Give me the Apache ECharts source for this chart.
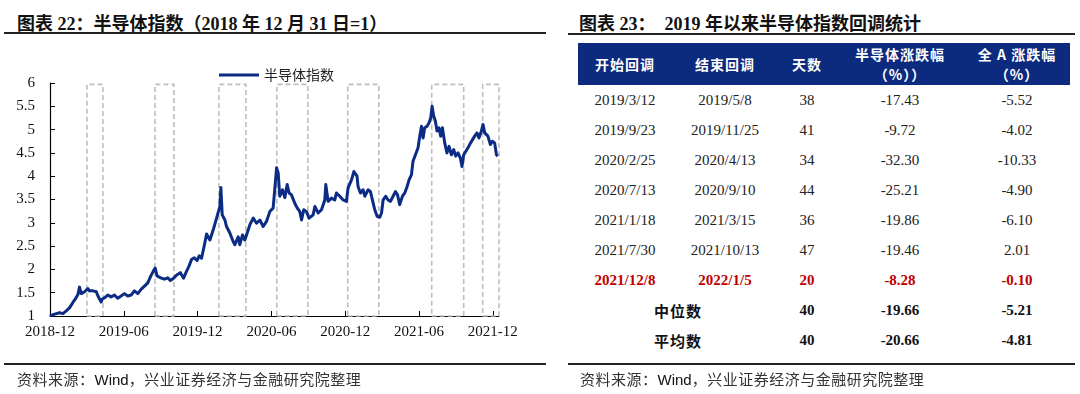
<!DOCTYPE html>
<html><head><meta charset="utf-8">
<script src="https://cdn.jsdelivr.net/npm/echarts@6/dist/echarts.min.js"></script>
<style>
html,body{margin:0;padding:0;background:#fff;}
body{width:1080px;height:394px;position:relative;overflow:hidden;font-family:"Liberation Serif","Noto Sans CJK SC",serif;}
.title{position:absolute;top:9px;font-size:18px;font-weight:bold;color:#111;white-space:pre;font-family:"Liberation Serif","Noto Sans CJK SC",serif;}
.rule{position:absolute;height:2px;background:#222;}
.src{position:absolute;top:368px;font-size:15px;color:#333;font-family:"Noto Sans CJK SC",sans-serif;white-space:pre;letter-spacing:0.5px;}
.src .en{font-family:"Liberation Sans",Arial,sans-serif;color:#111;letter-spacing:0;}
#chart{position:absolute;left:0;top:0;width:555px;height:394px;}
#tbl{position:absolute;left:578px;top:43px;width:492px;border-collapse:collapse;table-layout:fixed;font-size:15px;color:#222;}
#tbl th{background:#0c2a7e;color:#fff;font-family:"Noto Sans CJK SC",sans-serif;font-weight:bold;font-size:14px;height:42px;padding:0;line-height:20px;letter-spacing:1px;}
#tbl td{text-align:center;height:30px;padding:0;font-family:"Liberation Serif",serif;}
#tbl tr.red td{color:#c00000;font-weight:bold;}
#tbl tr.sum td{font-weight:bold;color:#111;}
#tbl tr.sum td.lbl{font-family:"Noto Sans CJK SC",sans-serif;font-size:15px;letter-spacing:1px;}
</style></head>
<body>
<div class="title" style="left:17px;">图表 22：半导体指数（2018 年 12 月 31 日=1）</div>
<div class="rule" style="left:4px;width:542px;top:32px;"></div>
<div class="title" style="left:579px;">图表 23：  2019 年以来半导体指数回调统计</div>
<div class="rule" style="left:568px;width:507px;top:33px;"></div>
<div id="chart"></div>
<table id="tbl">
<colgroup><col style="width:94px"><col style="width:106px"><col style="width:58px"><col style="width:128px"><col style="width:106px"></colgroup>
<thead><tr id="hdr"></tr></thead>
<tbody id="tbody"></tbody>
</table>
<div class="rule" style="left:4px;width:542px;top:363px;"></div>
<div class="rule" style="left:568px;width:507px;top:363px;"></div>
<div class="src" style="left:17px;">资料来源：<span class="en">Wind</span>，兴业证券经济与金融研究院整理</div>
<div class="src" style="left:580px;">资料来源：<span class="en">Wind</span>，兴业证券经济与金融研究院整理</div>
<script>
// ---- chart data (x = months since 2018-12-31) ----
const monthIdx = [0,0.38,0.78,1.05,1.32,1.6,1.86,2.05,2.27,2.4,2.54,2.81,3.08,3.2,3.49,3.76,3.9,4.16,4.24,4.43,4.7,4.97,5.24,5.5,5.78,6.05,6.32,6.6,6.86,7.14,7.4,7.68,7.95,8.2,8.43,8.55,8.7,8.85,9.0,9.3,9.57,9.78,10.05,10.3,10.6,10.86,11.05,11.3,11.5,11.73,11.95,12.13,12.32,12.5,12.73,13.0,13.27,13.54,13.81,13.89,14.0,14.22,14.35,14.62,14.89,15.03,15.3,15.43,15.65,15.84,15.98,16.25,16.52,16.79,17.06,17.33,17.6,17.87,18.14,18.28,18.42,18.55,18.68,18.9,19.09,19.28,19.44,19.63,19.9,20.09,20.31,20.45,20.63,20.85,21.06,21.39,21.53,21.8,22.07,22.34,22.42,22.61,22.88,23.15,23.29,23.56,23.83,24.1,24.23,24.51,24.7,24.96,25.04,25.24,25.45,25.59,25.86,26.05,26.21,26.4,26.59,26.81,26.95,27.08,27.29,27.48,27.68,27.89,28.08,28.25,28.43,28.65,28.84,29.03,29.19,29.38,29.51,29.71,29.92,30.06,30.2,30.33,30.46,30.65,30.81,30.95,31.06,31.19,31.33,31.46,31.62,31.76,31.9,32.09,32.27,32.44,32.63,32.82,32.98,33.17,33.36,33.49,33.63,33.79,33.98,34.18,34.34,34.52,34.71,34.87,35.07,35.2,35.34,35.47,35.6,35.8,35.96,36.15,36.29,36.4];
const indexValue = [1.0,1.04,1.07,1.05,1.11,1.18,1.29,1.36,1.46,1.62,1.48,1.52,1.59,1.54,1.54,1.52,1.43,1.30,1.36,1.39,1.45,1.41,1.45,1.38,1.43,1.48,1.43,1.45,1.54,1.48,1.57,1.64,1.71,1.86,1.98,2.03,1.86,1.89,1.82,1.79,1.82,1.76,1.81,1.88,1.93,1.81,1.93,2.07,2.21,2.25,2.19,2.29,2.24,2.46,2.76,2.63,2.85,3.10,3.35,3.76,3.17,3.06,2.92,2.78,2.6,2.53,2.7,2.53,2.74,2.63,2.67,2.96,3.10,2.99,3.06,2.92,3.03,3.24,3.32,3.75,4.18,4.07,3.57,3.71,3.54,3.82,3.64,3.60,3.42,3.32,3.24,3.06,3.28,3.24,3.10,3.17,3.35,3.21,3.28,3.49,3.82,3.46,3.53,3.49,3.64,3.57,3.49,3.46,3.75,3.92,4.10,4.0,3.78,3.64,3.71,3.57,3.71,3.67,3.49,3.28,3.14,3.12,3.21,3.49,3.57,3.49,3.46,3.57,3.67,3.6,3.39,3.57,3.64,3.78,3.92,4.03,4.32,4.46,4.61,4.86,5.07,4.82,5.04,5.07,5.14,5.25,5.50,5.29,5.18,4.97,5.04,4.86,5.04,4.71,4.5,4.64,4.46,4.57,4.43,4.5,4.39,4.21,4.46,4.43,4.61,4.71,4.78,4.86,4.93,4.82,4.97,5.11,4.93,4.97,4.86,4.68,4.75,4.71,4.46,4.43];
const xTickLabels = ['2018-12','2019-06','2019-12','2020-06','2020-12','2021-06','2021-12'];
const seriesName = '半导体指数';
// correction windows (months since start)
const boxStart = [3.0, 8.53, 13.73, 18.44, 24.2, 31.03, 35.17];
const boxEnd   = [4.3, 10.07, 15.92, 20.96, 26.73, 33.63, 36.5];

// ---- table data ----
const headers = ['开始回调','结束回调','天数','半导体涨跌幅<br>（%））','全 A 涨跌幅<br>（%）'];
const startDates = ['2019/3/12','2019/9/23','2020/2/25','2020/7/13','2021/1/18','2021/7/30','2021/12/8'];
const endDates   = ['2019/5/8','2019/11/25','2020/4/13','2020/9/10','2021/3/15','2021/10/13','2022/1/5'];
const days       = ['38','41','34','44','36','47','20'];
const semiChg    = ['-17.43','-9.72','-32.30','-25.21','-19.86','-19.46','-8.28'];
const allAChg    = ['-5.52','-4.02','-10.33','-4.90','-6.10','2.01','-0.10'];
const summaryLabels = ['中位数','平均数'];
const summaryDays   = ['40','40'];
const summarySemi   = ['-19.66','-20.66'];
const summaryAllA   = ['-5.21','-4.81'];

// build table
const hdr = document.getElementById('hdr');
headers.forEach(h => { const th = document.createElement('th'); th.innerHTML = h; hdr.appendChild(th); });
const tb = document.getElementById('tbody');
startDates.forEach((s, i) => {
  const tr = document.createElement('tr');
  if (i === startDates.length - 1) tr.className = 'red';
  [s, endDates[i], days[i], semiChg[i], allAChg[i]].forEach(v => { const td = document.createElement('td'); td.textContent = v; tr.appendChild(td); });
  tb.appendChild(tr);
});
summaryLabels.forEach((l, i) => {
  const tr = document.createElement('tr'); tr.className = 'sum';
  const td0 = document.createElement('td'); td0.colSpan = 2; td0.className = 'lbl'; td0.textContent = l; tr.appendChild(td0);
  [summaryDays[i], summarySemi[i], summaryAllA[i]].forEach(v => { const td = document.createElement('td'); td.textContent = v; tr.appendChild(td); });
  tb.appendChild(tr);
});

// build chart
const chart = echarts.init(document.getElementById('chart'), null, {renderer: 'canvas'});
const areas = boxStart.map((s, i) => [{xAxis: s, yAxis: 1}, {xAxis: boxEnd[i], yAxis: 5.97}]);
chart.setOption({
  animation: false,
  backgroundColor: 'transparent',
  grid: {left: 50, top: 83, width: 449, height: 233},
  legend: {
    data: [{name: seriesName, icon: 'rect'}], left: 214, top: 63, itemWidth: 40, itemHeight: 3, itemGap: 4,
    textStyle: {fontFamily: 'Noto Sans CJK SC', fontSize: 14, color: '#222'}
  },
  xAxis: {
    type: 'value', min: 0, max: 36.5, interval: 6,
    axisLine: {lineStyle: {color: '#000', width: 1.2}},
    axisTick: {inside: true, length: 5, lineStyle: {color: '#000'}},
    splitLine: {show: false},
    axisLabel: {
      margin: 9, color: '#111', fontFamily: 'Liberation Serif', fontSize: 15,
      showMaxLabel: false,
      formatter: v => { const k = Math.round(v / 6); return Math.abs(v - k * 6) < 1e-6 ? xTickLabels[k] : ''; }
    }
  },
  yAxis: {
    type: 'value', min: 1, max: 6, interval: 0.5,
    axisLine: {show: true, lineStyle: {color: '#000', width: 1.2}},
    axisTick: {show: true, inside: true, length: 5, lineStyle: {color: '#000'}},
    splitLine: {show: false},
    axisLabel: {margin: 15, color: '#111', fontFamily: 'Liberation Serif', fontSize: 15}
  },
  series: [{
    name: seriesName, type: 'line', showSymbol: false, symbol: 'none', smooth: false,
    data: monthIdx.map((m, i) => [m, indexValue[i]]),
    lineStyle: {color: '#0b2b85', width: 3, join: 'round'},
    itemStyle: {color: '#0b2b85'},
    markArea: {
      silent: true,
      itemStyle: {color: 'rgba(0,0,0,0)', borderColor: '#bdbdbd', borderWidth: 1.6, borderType: [5, 3]},
      data: areas
    }
  }]
});
</script>
</body></html>
